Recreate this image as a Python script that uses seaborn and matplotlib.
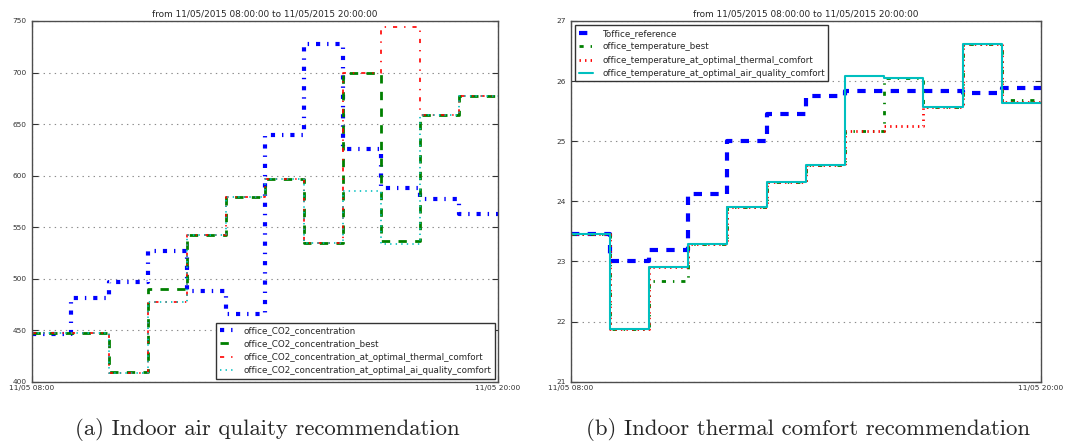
import numpy as np
import pandas as pd
import matplotlib
matplotlib.use("Agg")
import matplotlib.pyplot as plt
import matplotlib.dates as mdates
import seaborn as sns

# hourly values, 11/05/2015 08:00 -> 19:00 (step held until 20:00)
hours = pd.date_range("2015-05-11 08:00", "2015-05-11 20:00", freq="h")

co2_measured = [446, 481, 497, 527, 488, 466, 639, 728, 626, 588, 577, 563]
co2_best = [447, 447, 409, 490, 542, 579, 597, 535, 700, 537, 659, 677]
co2_thermal = [447, 447, 408, 477, 542, 579, 597, 535, 700, 744, 659, 677]
co2_air = [447, 447, 408, 477, 542, 579, 597, 535, 585, 534, 659, 677]

t_reference = [23.45, 23.0, 23.19, 24.12, 25.01, 25.46, 25.76, 25.84, 25.84, 25.84, 25.80, 25.88]
t_best = [23.45, 21.88, 22.67, 23.29, 23.9, 24.33, 24.6, 25.17, 26.05, 25.57, 26.62, 25.68]
t_thermal = [23.45, 21.88, 22.9, 23.29, 23.9, 24.33, 24.6, 25.17, 25.25, 25.57, 26.62, 25.65]
t_air = [23.45, 21.88, 22.9, 23.29, 23.9, 24.33, 24.6, 26.09, 26.05, 25.57, 26.62, 25.64]

left_labels = ["office_CO2_concentration", "office_CO2_concentration_best",
               "office_CO2_concentration_at_optimal_thermal_comfort",
               "office_CO2_concentration_at_optimal_ai_quality_comfort"]
right_labels = ["Toffice_reference", "office_temperature_best",
                "office_temperature_at_optimal_thermal_comfort",
                "office_temperature_at_optimal_air_quality_comfort"]

sns.set_style("white")
plt.rcParams.update({
    "font.family": ["DejaVu Sans"],
    "font.size": 6.4,
    "lines.scale_dashes": False,
    "lines.dashed_pattern": [6, 6],
    "lines.dashdot_pattern": [3, 5, 1, 5],
    "lines.dotted_pattern": [1, 3],
    "axes.edgecolor": "0.25",
    "axes.linewidth": 1.0,
})

fig = plt.figure(figsize=(10.65, 4.45), dpi=100)
ax1 = fig.add_axes([0.02977, 0.14225, 0.43784, 0.81056])
ax2 = fig.add_axes([0.53587, 0.14225, 0.44160, 0.81056])


def step_line(ax, vals, color, ls, lw, label):
    y = np.append(vals, vals[-1])
    sns.lineplot(x=hours, y=y, ax=ax, color=color, linestyle=ls, linewidth=lw,
                 drawstyle="steps-post", label=label, sort=False)


step_line(ax1, co2_measured, "b", "-.", 3, left_labels[0])
step_line(ax1, co2_best, "g", "--", 2, left_labels[1])
step_line(ax1, co2_thermal, "r", "-.", 1.2, left_labels[2])
step_line(ax1, co2_air, "c", ":", 1.2, left_labels[3])

step_line(ax2, t_reference, "b", "--", 3, right_labels[0])
step_line(ax2, t_best, "g", "-.", 2, right_labels[1])
step_line(ax2, t_thermal, "r", ":", 2, right_labels[2])
step_line(ax2, t_air, "c", "-", 1.5, right_labels[3])

ax1.set_ylim(400, 750)
ax1.set_yticks(np.arange(400, 751, 50))
ax2.set_ylim(21, 27)
ax2.set_yticks(np.arange(21, 28, 1))

for ax in (ax1, ax2):
    ax.set_xlim(hours[0], hours[-1])
    ax.set_xticks([hours[0], hours[-1]])
    ax.xaxis.set_major_formatter(mdates.DateFormatter("%d/%m %H:%M"))
    ax.set_xlabel("")
    ax.set_ylabel("")
    ax.set_title("from 11/05/2015 08:00:00 to 11/05/2015 20:00:00", fontsize=6.4, pad=3)
    ax.grid(True, color="0.55", linestyle=":", linewidth=0.8)
    ax.tick_params(direction="in", length=4, width=0.8, labelsize=5.3,
                   top=True, right=True, bottom=True, left=True, colors="0.2")
    ax.tick_params(axis="x", pad=2.4)
    ax.tick_params(axis="y", pad=3.5)
    for sp in ax.spines.values():
        sp.set_color("0.3")

leg1 = ax1.legend(loc="lower right", fontsize=6.3, fancybox=False, framealpha=1,
                  edgecolor="0.2", borderaxespad=0.35, handlelength=1.7, handletextpad=1.0)
leg2 = ax2.legend(loc="upper left", fontsize=6.3, fancybox=False, framealpha=1,
                  edgecolor="0.2", borderaxespad=0.5, handlelength=1.7, handletextpad=1.0)

fig.text(0.2507, 0.035, "(a) Indoor air qulaity recommendation", ha="center", va="center",
         fontsize=16.4, family="cmr10")
fig.text(0.7587, 0.035, "(b) Indoor thermal comfort recommendation", ha="center", va="center",
         fontsize=16.4, family="cmr10")

fig.savefig("out.png", dpi=100)
